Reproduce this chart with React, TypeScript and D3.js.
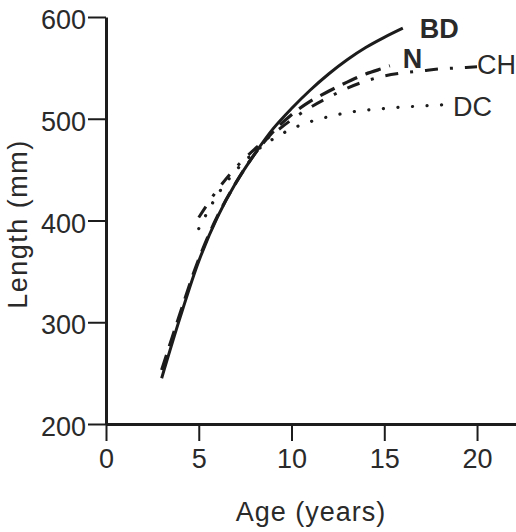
import React, { useEffect, useRef } from 'react';
import * as d3 from 'd3';

// growth curves, length (mm) at age (years)
const bdAges = [3, 4, 5, 6, 7, 8, 9, 10, 11, 12, 13, 14, 15, 16];
const bdLengths = [245, 305, 360, 403, 437, 465, 490, 510, 528, 544, 558, 570, 580, 589];

const nAges = [3, 4, 5, 6, 7, 8, 9, 10, 11, 12, 13, 14, 15, 15.3];
const nLengths = [253, 309, 362, 404, 437, 465, 487, 504, 517, 527, 536, 544, 550, 552];

const chAges = [5, 6, 7, 8, 9, 10, 11, 12, 13, 14, 15, 16, 17, 18, 19, 20];
const chLengths = [403, 430, 452, 470, 485, 499, 511, 521, 530, 537, 542, 545, 547, 549, 550, 551];

const dcAges = [5, 6, 7, 8, 9, 10, 11, 12, 13, 14, 15, 16, 17, 18, 18.6];
const dcLengths = [392, 425, 449, 467, 480, 490, 497, 502, 506, 508.5, 510, 511.5, 512.5, 513.5, 514];

const xTicks = [0, 5, 10, 15, 20];
const yTicks = [200, 300, 400, 500, 600];

const series = [
  { name: 'DC', ages: dcAges, lengths: dcLengths, dash: '0.1 14.5', cap: 'round', width: 3.2, bold: false, dx: 2, dy: 11 },
  { name: 'CH', ages: chAges, lengths: chLengths, dash: '13 12 3 12', cap: 'butt', width: 3, bold: false, dx: 0, dy: 7 },
  { name: 'N', ages: nAges, lengths: nLengths, dash: '16 9', cap: 'butt', width: 3.2, bold: true, dx: 13, dy: 2 },
  { name: 'BD', ages: bdAges, lengths: bdLengths, dash: null, cap: 'butt', width: 3, bold: true, dx: 17, dy: 10 },
];

const W = 516;
const H = 532;
const FONT = "'Liberation Sans', Arial, Helvetica, sans-serif";
const INK = '#1c1c1c';
const TEXT = '#2a2a2a';

const App: React.FC = () => {
  const svgRef = useRef<SVGSVGElement>(null);

  useEffect(() => {
    if (!svgRef.current) return;
    const svg = d3.select(svgRef.current);
    svg.selectAll('*').remove();

    const x = d3.scaleLinear().domain([0, 22.1]).range([106, 516]);
    const y = d3.scaleLinear().domain([200, 600]).range([424, 17]);

    // y axis
    const yAxis = svg
      .append('g')
      .attr('transform', `translate(${x(0)},0)`)
      .call(d3.axisLeft(y).tickValues(yTicks).tickSize(18).tickSizeOuter(0).tickPadding(2));
    yAxis.select('.domain').attr('stroke', INK).attr('stroke-width', 3);
    yAxis.selectAll('.tick line').attr('stroke', INK).attr('stroke-width', 2);
    yAxis
      .selectAll('.tick text')
      .attr('fill', TEXT)
      .attr('dy', '0.36em')
      .attr('y', 2)
      .style('font-family', FONT)
      .style('font-size', '27px');

    // x axis
    const xAxis = svg
      .append('g')
      .attr('transform', `translate(0,${y(200)})`)
      .call(d3.axisBottom(x).tickValues(xTicks).tickSize(17).tickSizeOuter(0).tickPadding(8));
    xAxis.select('.domain').attr('stroke', INK).attr('stroke-width', 3);
    xAxis.selectAll('.tick line').attr('stroke', INK).attr('stroke-width', 2);
    xAxis
      .selectAll('.tick text')
      .attr('fill', TEXT)
      .style('font-family', FONT)
      .style('font-size', '27px');

    // curves
    const line = d3
      .line<[number, number]>()
      .x((d) => x(d[0]))
      .y((d) => y(d[1]))
      .curve(d3.curveCatmullRom.alpha(0.5));

    series.forEach((s) => {
      const pts = s.ages.map((a, i) => [a, s.lengths[i]] as [number, number]);
      svg
        .append('path')
        .attr('d', line(pts))
        .attr('fill', 'none')
        .attr('stroke', INK)
        .attr('stroke-width', s.width)
        .attr('stroke-linecap', s.cap)
        .attr('stroke-dasharray', s.dash);

      const last = pts[pts.length - 1];
      svg
        .append('text')
        .attr('x', x(last[0]) + s.dx)
        .attr('y', y(last[1]) + s.dy)
        .attr('fill', TEXT)
        .style('font-family', FONT)
        .style('font-size', '27px')
        .style('font-weight', s.bold ? 'bold' : 'normal')
        .text(s.name);
    });

    // axis titles
    svg
      .append('text')
      .attr('x', 311)
      .attr('y', 521)
      .attr('text-anchor', 'middle')
      .attr('fill', TEXT)
      .style('font-family', FONT)
      .style('font-size', '27px')
      .style('letter-spacing', '1px')
      .text('Age (years)');

    svg
      .append('text')
      .attr('transform', 'translate(27,224) rotate(-90)')
      .attr('text-anchor', 'middle')
      .attr('fill', TEXT)
      .style('font-family', FONT)
      .style('font-size', '27px')
      .style('letter-spacing', '1.5px')
      .text('Length (mm)');
  }, []);

  return (
    <svg
      ref={svgRef}
      width={W}
      height={H}
      style={{ position: 'absolute', left: 0, top: 0, background: '#fff' }}
    />
  );
};

export default App;
